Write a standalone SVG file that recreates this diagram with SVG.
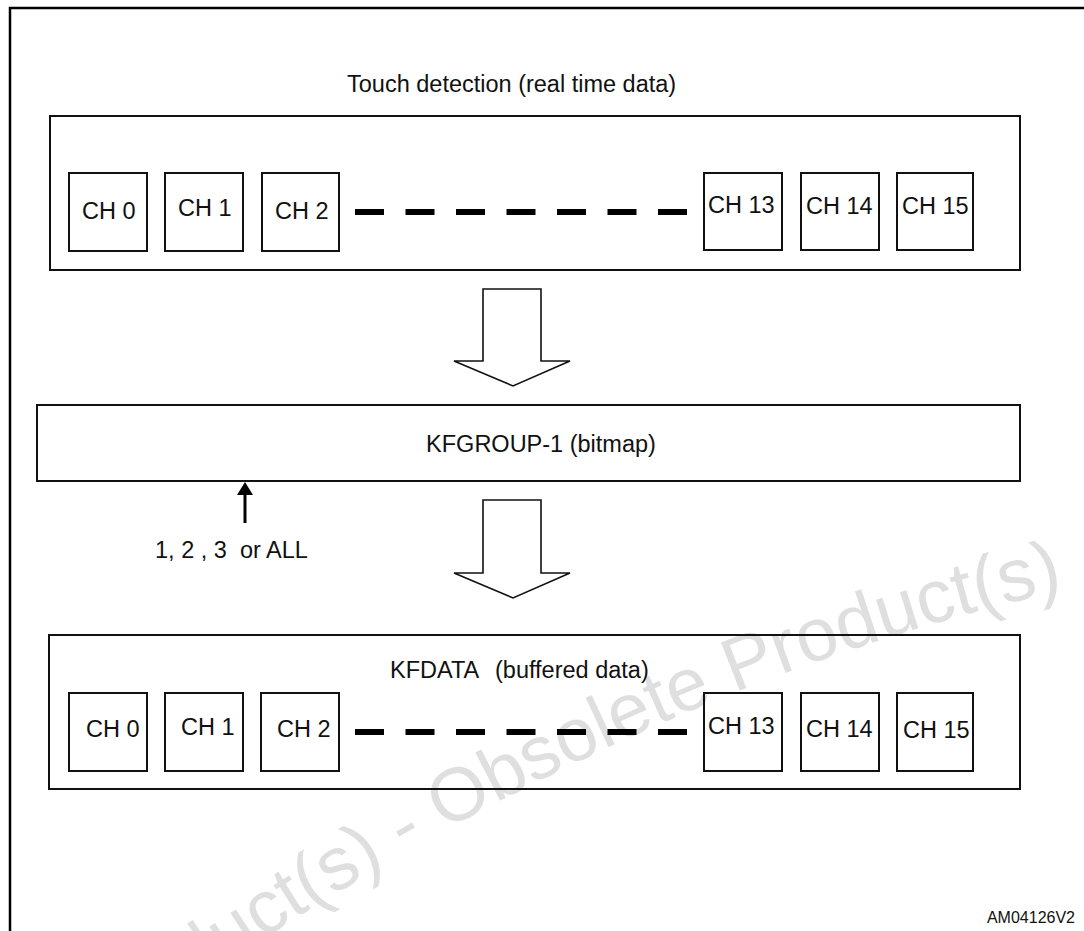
<svg xmlns="http://www.w3.org/2000/svg" xmlns:xlink="http://www.w3.org/1999/xlink" width="1084" height="931" viewBox="0 0 1084 931">
<style>
  .t { font-family: "Liberation Sans", Arial, sans-serif; font-size: 23.5px; fill: #111; }
  .box { fill: none; stroke: #111; stroke-width: 2; }
  .ch { fill: none; stroke: #111; stroke-width: 2; }
  .dash { stroke: #000; stroke-width: 6; stroke-dasharray: 29 21.5; }
  .blk { fill: #fff; stroke: #111; stroke-width: 1.6; stroke-linejoin: miter; }
  .wm { font-family: "Liberation Sans", Arial, sans-serif; font-size: 75px; fill: #dfdfdf; }
</style>
<defs>
  <path id="wmPath" d="M 60 1080 Q 570 700 1064 590"/>
</defs>
<rect width="1084" height="931" fill="#fff"/>

<g id="watermark">
  <text class="wm"><textPath xlink:href="#wmPath" href="#wmPath" startOffset="100%" text-anchor="end">Obsolete Product(s) - Obsolete Product(s)</textPath></text>
</g>

<g id="frame">
  <path d="M 10 931 L 10 8 L 1084 8" fill="none" stroke="#000" stroke-width="2.5"/>
</g>

<g id="top-group">
  <text class="t" x="347" y="92">Touch detection (real time data)</text>
  <rect class="box" x="50" y="116" width="970" height="154"/>
</g>
<g id="top-ch0"><rect class="ch" x="69" y="173" width="78" height="78"/><text class="t" x="82" y="219">CH 0</text></g>
<g id="top-ch1"><rect class="ch" x="165" y="173" width="78" height="78"/><text class="t" x="178" y="216">CH 1</text></g>
<g id="top-ch2"><rect class="ch" x="262" y="173" width="77" height="78"/><text class="t" x="275" y="219">CH 2</text></g>
<g id="top-ch13"><rect class="ch" x="704" y="173" width="78" height="77"/><text class="t" x="708" y="213">CH 13</text></g>
<g id="top-ch14"><rect class="ch" x="801" y="173" width="78" height="77"/><text class="t" x="806" y="214">CH 14</text></g>
<g id="top-ch15"><rect class="ch" x="897" y="173" width="76" height="77"/><text class="t" x="902" y="214">CH 15</text></g>

<g id="kfgroup">
  <rect class="box" x="37" y="405" width="983" height="76"/>
  <text class="t" x="541" y="452" text-anchor="middle">KFGROUP-1 (bitmap)</text>
</g>

<g id="kfdata-group">
  <text class="t" x="390" y="678">KFDATA <tspan x="495">(buffered data)</tspan></text>
  <rect class="box" x="49" y="635" width="971" height="154"/>
</g>
<g id="bot-ch0"><rect class="ch" x="69" y="693" width="78" height="78"/><text class="t" x="86" y="737">CH 0</text></g>
<g id="bot-ch1"><rect class="ch" x="165" y="693" width="78" height="78"/><text class="t" x="181" y="735">CH 1</text></g>
<g id="bot-ch2"><rect class="ch" x="261" y="693" width="78" height="78"/><text class="t" x="277" y="737">CH 2</text></g>
<g id="bot-ch13"><rect class="ch" x="704" y="693" width="78" height="78"/><text class="t" x="708" y="734">CH 13</text></g>
<g id="bot-ch14"><rect class="ch" x="801" y="693" width="78" height="78"/><text class="t" x="806" y="737">CH 14</text></g>
<g id="bot-ch15"><rect class="ch" x="897" y="693" width="76" height="78"/><text class="t" x="903" y="738">CH 15</text></g>

<g id="select-label">
  <text class="t" x="155" y="558" xml:space="preserve">1, 2 , 3  or ALL</text>
</g>

<g id="connectors">
  <line class="dash" x1="355" y1="212" x2="688" y2="212"/>
  <line class="dash" x1="355" y1="732" x2="688" y2="732"/>
  <polygon class="blk" points="483,289 541,289 541,361 570,361 513,386 454,361 483,361"/>
  <polygon class="blk" points="483,500 541,500 541,573 570,573 513,598 454,573 483,573"/>
  <line x1="245" y1="523" x2="245" y2="492" stroke="#000" stroke-width="3"/>
  <polygon points="237,495 253,495 245,482" fill="#000"/>
</g>

<g id="figure-id">
  <text x="1075" y="923" text-anchor="end" style="font-family:'Liberation Sans', Arial, sans-serif; font-size:16px; fill:#111">AM04126V2</text>
</g>
</svg>
